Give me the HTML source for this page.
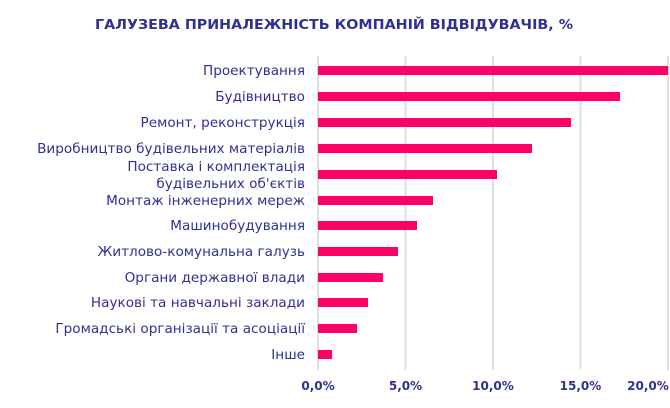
<!DOCTYPE html>
<html><head><meta charset="utf-8"><style>
body{margin:0;background:#fff}
svg text{font-family:"DejaVu Sans","Liberation Sans",sans-serif}
</style></head><body>
<svg width="670" height="403" xmlns="http://www.w3.org/2000/svg">
<rect width="670" height="403" fill="#fff"/>
<text x="334" y="29" text-anchor="middle" font-size="13" font-weight="bold" fill="#2e3192" textLength="478" lengthAdjust="spacingAndGlyphs">ГАЛУЗЕВА ПРИНАЛЕЖНІСТЬ КОМПАНІЙ ВІДВІДУВАЧІВ, %</text>
<g stroke="#e0e0e0" stroke-width="2">
<line x1="318" y1="56" x2="318" y2="370"/>
<line x1="405.5" y1="56" x2="405.5" y2="370"/>
<line x1="493" y1="56" x2="493" y2="370"/>
<line x1="580.5" y1="56" x2="580.5" y2="370"/>
<line x1="668" y1="56" x2="668" y2="370"/>
</g>
<g fill="#ff0066">
<rect x="318" y="66" width="350" height="9"/>
<rect x="318" y="92" width="302" height="9"/>
<rect x="318" y="118" width="253" height="9"/>
<rect x="318" y="144" width="214" height="9"/>
<rect x="318" y="170" width="179" height="9"/>
<rect x="318" y="196" width="115" height="9"/>
<rect x="318" y="221" width="99" height="9"/>
<rect x="318" y="247" width="80" height="9"/>
<rect x="318" y="273" width="65" height="9"/>
<rect x="318" y="298" width="50" height="9"/>
<rect x="318" y="324" width="39" height="9"/>
<rect x="318" y="350" width="14" height="9"/>
</g>
<g font-size="13.6" fill="#2e3192" text-anchor="end">
<text x="305" y="75">Проектування</text>
<text x="305" y="101">Будівництво</text>
<text x="305" y="127">Ремонт, реконструкція</text>
<text x="305" y="153">Виробництво будівельних матеріалів</text>
<text x="305" y="171">Поставка і комплектація</text>
<text x="305" y="188">будівельних об'єктів</text>
<text x="305" y="205">Монтаж інженерних мереж</text>
<text x="305" y="230">Машинобудування</text>
<text x="305" y="256">Житлово-комунальна галузь</text>
<text x="305" y="282">Органи державної влади</text>
<text x="305" y="307">Наукові та навчальні заклади</text>
<text x="305" y="333">Громадські організації та асоціації</text>
<text x="305" y="359">Інше</text>
</g>
<g font-size="12" font-weight="bold" fill="#2e3192" text-anchor="middle">
<text x="318" y="390">0,0%</text>
<text x="405.5" y="390">5,0%</text>
<text x="493" y="390">10,0%</text>
<text x="580.5" y="390">15,0%</text>
<text x="648" y="390">20,0%</text>
</g>
</svg>
</body></html>
